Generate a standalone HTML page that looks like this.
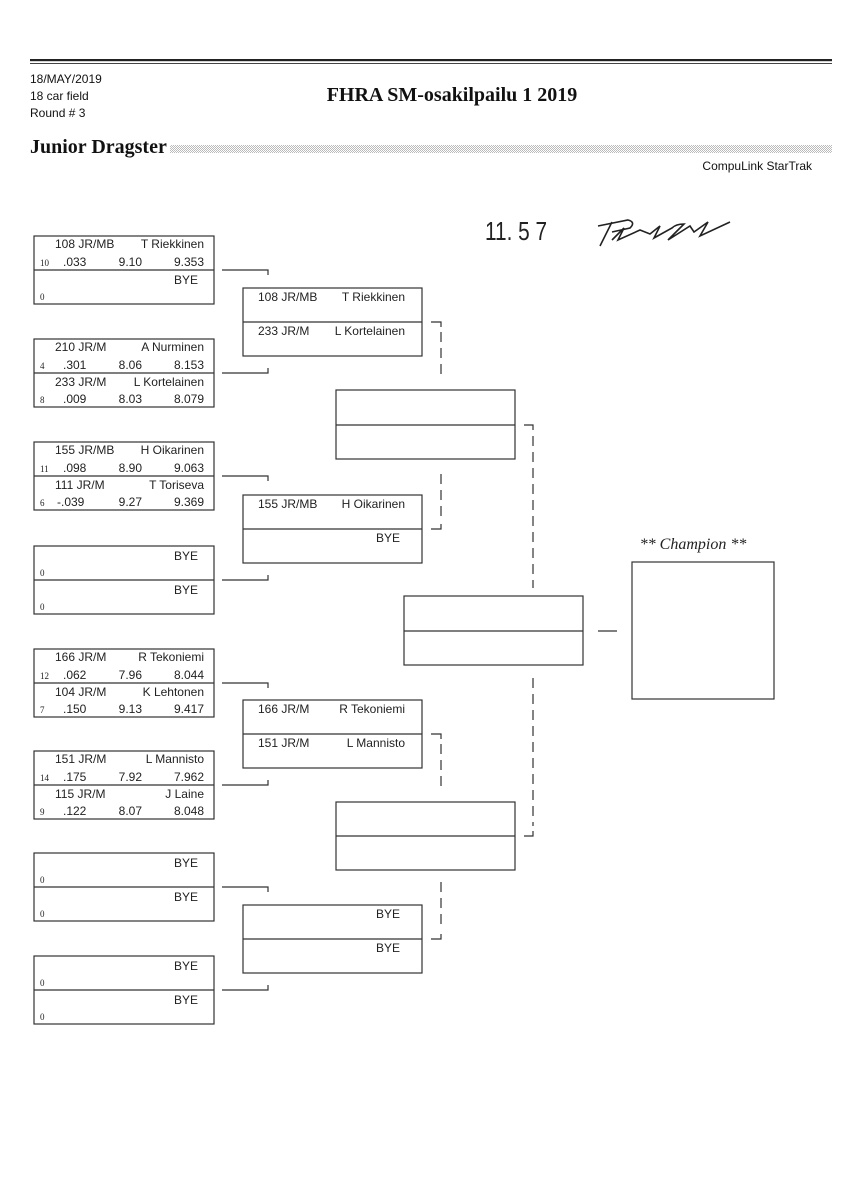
<!DOCTYPE html>
<html><head><meta charset="utf-8">
<style>
html,body{margin:0;padding:0;background:#fff;}
svg{display:block}
.t{font-family:"Liberation Sans",sans-serif;font-size:12px;fill:#222;}
.s{font-family:"Liberation Serif",serif;font-size:9px;fill:#222;}
.h{font-family:"Liberation Sans",sans-serif;font-size:12px;fill:#111;}
</style></head><body>
<svg width="848" height="1200" xmlns="http://www.w3.org/2000/svg">
<defs>
<pattern id="dots" width="2" height="2" patternUnits="userSpaceOnUse">
<rect width="1" height="1" fill="#bbb"/><rect x="1" y="1" width="1" height="1" fill="#bbb"/>
</pattern>
</defs>
<rect x="30" y="59" width="802" height="2.2" fill="#222"/>
<rect x="30" y="63" width="802" height="1" fill="#444"/>
<text x="30" y="83" class="h">18/MAY/2019</text>
<text x="30" y="100" class="h">18 car field</text>
<text x="30" y="117" class="h">Round # 3</text>
<text x="452" y="101" text-anchor="middle" font-family="Liberation Serif,serif" font-weight="bold" font-size="20" fill="#111">FHRA SM-osakilpailu 1 2019</text>
<text x="30" y="153" font-family="Liberation Serif,serif" font-weight="bold" font-size="20" fill="#111">Junior Dragster</text>
<rect x="170" y="145" width="662" height="8" fill="url(#dots)"/>
<text x="812" y="170" text-anchor="end" class="h" font-size="11">CompuLink StarTrak</text>

<text x="485" y="240" font-family="Liberation Sans,sans-serif" font-size="26" fill="#222" transform="translate(485,240) scale(0.8,1) translate(-485,-240)">11. 5 7</text>
<path d="M598 226 L628 220 Q636 222 630 228 L612 232 M612 222 L600 246 M612 240 L624 228 L618 240 L640 230 L650 234 L660 226 L654 238 L672 228 Q676 224 684 224 L668 240 L690 226 L694 232 L708 222 L700 236 L730 222" fill="none" stroke="#222" stroke-width="1.6"/>

<g fill="none" stroke="#333" stroke-width="1.2">
<rect x="34" y="236" width="180" height="68"/><line x1="34" y1="270" x2="214" y2="270"/>
<rect x="34" y="339" width="180" height="68"/><line x1="34" y1="373" x2="214" y2="373"/>
<rect x="34" y="442" width="180" height="68"/><line x1="34" y1="476" x2="214" y2="476"/>
<rect x="34" y="546" width="180" height="68"/><line x1="34" y1="580" x2="214" y2="580"/>
<rect x="34" y="649" width="180" height="68"/><line x1="34" y1="683" x2="214" y2="683"/>
<rect x="34" y="751" width="180" height="68"/><line x1="34" y1="785" x2="214" y2="785"/>
<rect x="34" y="853" width="180" height="68"/><line x1="34" y1="887" x2="214" y2="887"/>
<rect x="34" y="956" width="180" height="68"/><line x1="34" y1="990" x2="214" y2="990"/>
<rect x="243" y="288" width="179" height="68"/><line x1="243" y1="322" x2="422" y2="322"/>
<rect x="243" y="495" width="179" height="68"/><line x1="243" y1="529" x2="422" y2="529"/>
<rect x="243" y="700" width="179" height="68"/><line x1="243" y1="734" x2="422" y2="734"/>
<rect x="243" y="905" width="179" height="68"/><line x1="243" y1="939" x2="422" y2="939"/>
<rect x="336" y="390" width="179" height="69"/><line x1="336" y1="425" x2="515" y2="425"/>
<rect x="336" y="802" width="179" height="68"/><line x1="336" y1="836" x2="515" y2="836"/>
<rect x="404" y="596" width="179" height="69"/><line x1="404" y1="631" x2="583" y2="631"/>
<rect x="632" y="562" width="142" height="137"/>
<line x1="598" y1="631" x2="617" y2="631"/>
<path d="M222 270 H268 V275 M222 373 H268 V368"/>
<path d="M222 476 H268 V481 M222 580 H268 V575"/>
<path d="M222 683 H268 V688 M222 785 H268 V780"/>
<path d="M222 887 H268 V892 M222 990 H268 V985"/>
<path d="M431 322 H441 V327 M431 529 H441 V524 M431 734 H441 V739 M431 939 H441 V934 M524 425 H533 V430 M524 836 H533 V831"/>
</g>
<g fill="none" stroke="#333" stroke-width="1.2" stroke-dasharray="10,6">
<path d="M441 332 V380"/>
<path d="M441 474 V520"/>
<path d="M441 744 V792"/>
<path d="M441 882 V930"/>
<path d="M533 436 V588"/>
<path d="M533 678 V826"/>
</g>

<text x="693" y="549" text-anchor="middle" font-family="Liberation Serif,serif" font-style="italic" font-size="16" fill="#222">** Champion **</text>

<g class="t">
<text x="55" y="248">108 JR/MB</text><text x="204" y="248" text-anchor="end">T Riekkinen</text>
<text x="40" y="266" class="s">10</text><text x="63" y="266">.033</text><text x="142" y="266" text-anchor="end">9.10</text><text x="204" y="266" text-anchor="end">9.353</text>
<text x="198" y="284" text-anchor="end">BYE</text><text x="40" y="300" class="s">0</text>
<text x="55" y="351">210   JR/M</text><text x="204" y="351" text-anchor="end">A Nurminen</text>
<text x="40" y="369" class="s">4</text><text x="63" y="369">.301</text><text x="142" y="369" text-anchor="end">8.06</text><text x="204" y="369" text-anchor="end">8.153</text>
<text x="55" y="386">233   JR/M</text><text x="204" y="386" text-anchor="end">L Kortelainen</text>
<text x="40" y="403" class="s">8</text><text x="63" y="403">.009</text><text x="142" y="403" text-anchor="end">8.03</text><text x="204" y="403" text-anchor="end">8.079</text>
<text x="55" y="454">155 JR/MB</text><text x="204" y="454" text-anchor="end">H Oikarinen</text>
<text x="40" y="472" class="s">11</text><text x="63" y="472">.098</text><text x="142" y="472" text-anchor="end">8.90</text><text x="204" y="472" text-anchor="end">9.063</text>
<text x="55" y="489">111   JR/M</text><text x="204" y="489" text-anchor="end">T Toriseva</text>
<text x="40" y="506" class="s">6</text><text x="57" y="506">-.039</text><text x="142" y="506" text-anchor="end">9.27</text><text x="204" y="506" text-anchor="end">9.369</text>
<text x="198" y="560" text-anchor="end">BYE</text><text x="40" y="576" class="s">0</text>
<text x="198" y="594" text-anchor="end">BYE</text><text x="40" y="610" class="s">0</text>
<text x="55" y="661">166   JR/M</text><text x="204" y="661" text-anchor="end">R Tekoniemi</text>
<text x="40" y="679" class="s">12</text><text x="63" y="679">.062</text><text x="142" y="679" text-anchor="end">7.96</text><text x="204" y="679" text-anchor="end">8.044</text>
<text x="55" y="696">104   JR/M</text><text x="204" y="696" text-anchor="end">K Lehtonen</text>
<text x="40" y="713" class="s">7</text><text x="63" y="713">.150</text><text x="142" y="713" text-anchor="end">9.13</text><text x="204" y="713" text-anchor="end">9.417</text>
<text x="55" y="763">151   JR/M</text><text x="204" y="763" text-anchor="end">L Mannisto</text>
<text x="40" y="781" class="s">14</text><text x="63" y="781">.175</text><text x="142" y="781" text-anchor="end">7.92</text><text x="204" y="781" text-anchor="end">7.962</text>
<text x="55" y="798">115   JR/M</text><text x="204" y="798" text-anchor="end">J Laine</text>
<text x="40" y="815" class="s">9</text><text x="63" y="815">.122</text><text x="142" y="815" text-anchor="end">8.07</text><text x="204" y="815" text-anchor="end">8.048</text>
<text x="198" y="867" text-anchor="end">BYE</text><text x="40" y="883" class="s">0</text>
<text x="198" y="901" text-anchor="end">BYE</text><text x="40" y="917" class="s">0</text>
<text x="198" y="970" text-anchor="end">BYE</text><text x="40" y="986" class="s">0</text>
<text x="198" y="1004" text-anchor="end">BYE</text><text x="40" y="1020" class="s">0</text>

<text x="258" y="301">108 JR/MB</text><text x="405" y="301" text-anchor="end">T Riekkinen</text>
<text x="258" y="335">233   JR/M</text><text x="405" y="335" text-anchor="end">L Kortelainen</text>
<text x="258" y="508">155 JR/MB</text><text x="405" y="508" text-anchor="end">H Oikarinen</text>
<text x="400" y="542" text-anchor="end">BYE</text>
<text x="258" y="713">166   JR/M</text><text x="405" y="713" text-anchor="end">R Tekoniemi</text>
<text x="258" y="747">151   JR/M</text><text x="405" y="747" text-anchor="end">L Mannisto</text>
<text x="400" y="918" text-anchor="end">BYE</text>
<text x="400" y="952" text-anchor="end">BYE</text>
</g>
</svg>
</body></html>
